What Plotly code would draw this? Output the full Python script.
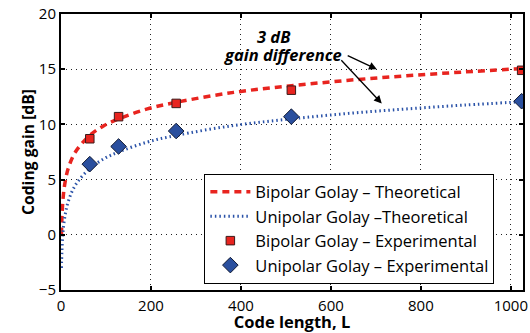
import plotly.graph_objects as go

# Theoretical curves
L_theory = [1, 2, 4, 8, 16, 32, 64, 96, 128, 192, 256, 384, 512, 640, 768, 896, 1024]
bipolar_theory = [0.0, 1.5, 3.0, 4.5, 6.0, 7.5, 9.0, 9.9, 10.5, 11.4, 12.0, 12.9, 13.5, 14.0, 14.4, 14.75, 15.05]
unipolar_theory = [-3.0, -1.5, 0.0, 1.5, 3.0, 4.5, 6.0, 6.9, 7.5, 8.4, 9.0, 9.9, 10.5, 11.0, 11.4, 11.75, 12.05]

# Experimental points
L_exp = [64, 128, 256, 512, 1024]
bipolar_exp = [8.7, 10.7, 11.9, 13.1, 14.9]
unipolar_exp = [6.4, 8.0, 9.4, 10.7, 12.1]

x_ticks = [0, 200, 400, 600, 800, 1000]
y_ticks = [-5, 0, 5, 10, 15, 20]

FONT = "Open Sans"

fig = go.Figure()
fig.add_trace(go.Scatter(x=L_theory, y=bipolar_theory, mode="lines", line_shape="spline",
                         line=dict(color="#e8241f", width=3.5, dash="7px,5px"),
                         name="Bipolar Golay \u2013 Theoretical"))
fig.add_trace(go.Scatter(x=L_theory, y=unipolar_theory, mode="lines", line_shape="spline",
                         line=dict(color="#2a52a8", width=3, dash="1.5px,3px"),
                         name="Unipolar Golay \u2013Theoretical"))
fig.add_trace(go.Scatter(x=L_exp, y=bipolar_exp, mode="markers",
                         marker=dict(symbol="square", size=8.5, color="#e8241f",
                                     line=dict(color="#3a1a1a", width=1)),
                         name="Bipolar Golay \u2013 Experimental"))
fig.add_trace(go.Scatter(x=L_exp, y=unipolar_exp, mode="markers",
                         marker=dict(symbol="diamond", size=12, color="#2a4f9e",
                                     line=dict(color="#111a33", width=1)),
                         name="Unipolar Golay \u2013 Experimental"))

fig.add_annotation(x=474, y=17.95, xref="x", yref="y",
                   text="<b><i>3 dB</i></b>", showarrow=False,
                   font=dict(family=FONT, size=16.5, color="black"))
fig.add_annotation(x=494, y=16.35, xref="x", yref="y",
                   text="<b><i>gain difference</i></b>", showarrow=False,
                   font=dict(family=FONT, size=16.5, color="black"))
fig.add_annotation(x=702, y=15.0, xref="x", yref="y", ax=634, ay=16.3,
                   axref="x", ayref="y", text="", showarrow=True,
                   arrowhead=2, arrowsize=1.2, arrowwidth=1.3, arrowcolor="black")
fig.add_annotation(x=713, y=11.9, xref="x", yref="y", ax=620, ay=15.95,
                   axref="x", ayref="y", text="", showarrow=True,
                   arrowhead=2, arrowsize=1.2, arrowwidth=1.3, arrowcolor="black")

axis_common = dict(showline=True, linecolor="black", linewidth=2, mirror="ticks",
                   ticks="inside", ticklen=4, tickwidth=2, tickcolor="black",
                   showgrid=True, gridcolor="#222222", griddash="1px,4px", gridwidth=1,
                   zeroline=False, automargin=False,
                   tickfont=dict(family=FONT, size=15, color="black"))

fig.update_xaxes(range=[0, 1027], tickvals=x_ticks, ticklabelstandoff=1,
                 title=dict(text="<b>Code length, L</b>", font=dict(family=FONT, size=16.5, color="black"),
                            standoff=2), **axis_common)
fig.update_yaxes(range=[-5, 20], tickvals=y_ticks,
                 title=dict(text="<b>Coding gain [dB]</b>", font=dict(family=FONT, size=15.7, color="black"),
                            standoff=0), **axis_common)

fig.update_layout(
    width=530, height=333,
    margin=dict(l=61, r=7, t=14, b=43),
    plot_bgcolor="white", paper_bgcolor="white",
    font=dict(family=FONT, size=15, color="black"),
    legend=dict(x=0.938, y=0.422, xanchor="right", yanchor="top",
                bgcolor="white", bordercolor="black", borderwidth=1,
                font=dict(family=FONT, size=16.5, color="black"),
                tracegroupgap=0, itemwidth=40),
    showlegend=True,
)

fig.write_html("out.html", config={"displayModeBar": False},
               post_script="document.body.style.margin='0';")
